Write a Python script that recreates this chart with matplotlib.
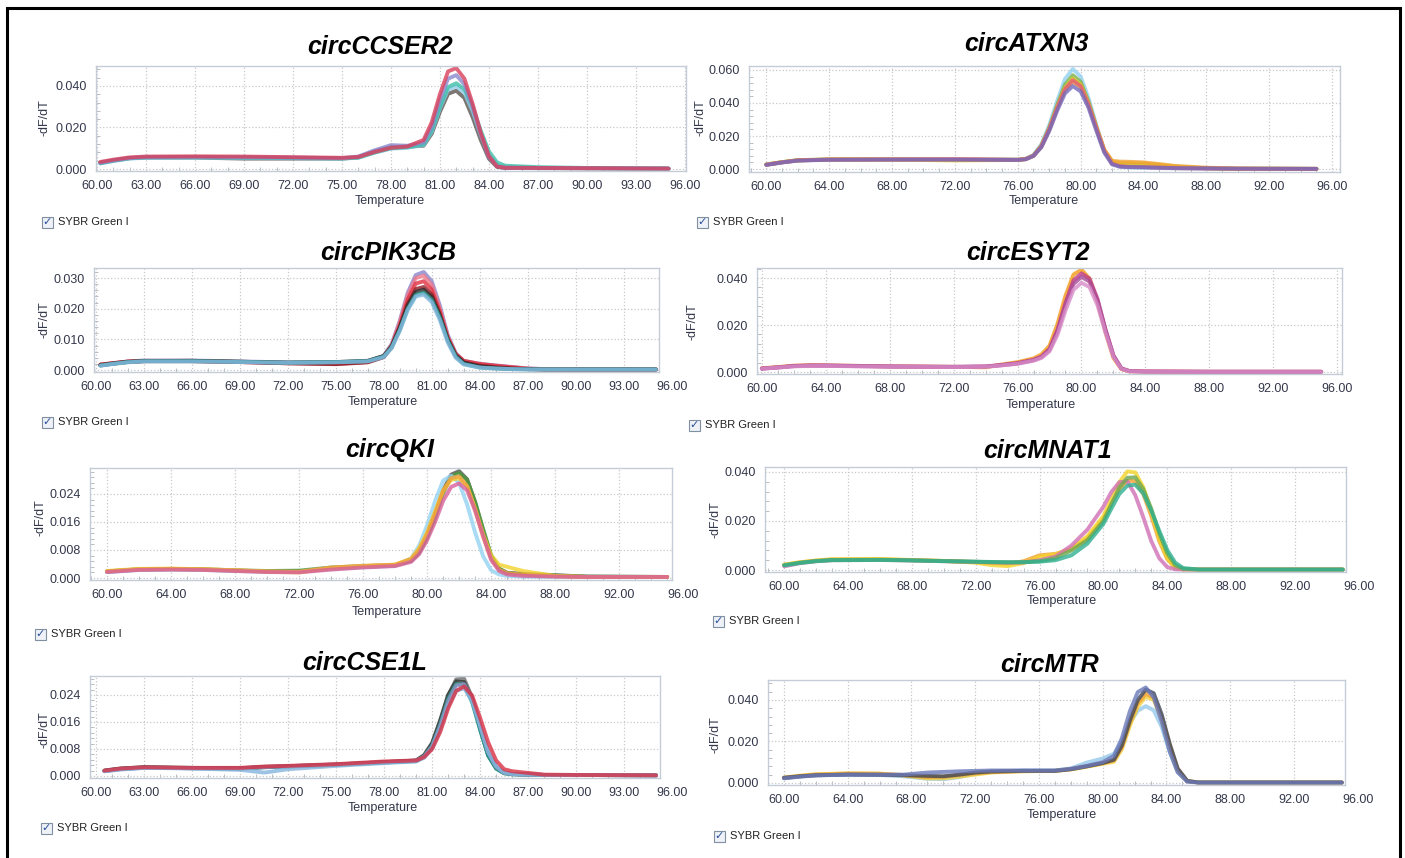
import matplotlib
matplotlib.use('Agg')
import matplotlib.pyplot as plt
from matplotlib.patches import Rectangle
from matplotlib.ticker import MultipleLocator, AutoMinorLocator, FormatStrFormatter

plt.rcParams['font.family'] = ['Liberation Sans', 'DejaVu Sans']

W, H = 1405, 858

# ---------------- data (melt curves, -dF/dT vs temperature) ----------------
# circCCSER2
ccser2_temp = [60.2, 61, 62, 63, 66, 69, 72, 75, 76, 77, 78, 79, 80, 80.5, 81, 81.5, 82, 82.5, 83, 83.5, 84, 84.5, 85, 87, 90, 95]
ccser2_red = [0.0034, 0.0045, 0.0056, 0.0060, 0.0061, 0.0060, 0.0057, 0.0054, 0.0058, 0.0082, 0.0102, 0.0108, 0.0140, 0.0225, 0.0360, 0.0470, 0.0486, 0.0435, 0.0315, 0.0175, 0.0062, 0.0012, 0.0006, 0.0005, 0.0004, 0.0002]
ccser2_lavender = [0.0030, 0.0042, 0.0053, 0.0057, 0.0058, 0.0057, 0.0055, 0.0052, 0.0060, 0.0090, 0.0115, 0.0112, 0.0128, 0.0205, 0.0335, 0.0435, 0.0452, 0.0408, 0.0300, 0.0168, 0.0058, 0.0012, 0.0006, 0.0005, 0.0004, 0.0002]
ccser2_teal = [0.0028, 0.0040, 0.0052, 0.0056, 0.0056, 0.0055, 0.0053, 0.0051, 0.0055, 0.0080, 0.0100, 0.0105, 0.0118, 0.0185, 0.0300, 0.0395, 0.0413, 0.0385, 0.0300, 0.0185, 0.0085, 0.0032, 0.0016, 0.0009, 0.0005, 0.0002]
ccser2_lightblue = [0.0026, 0.0038, 0.0050, 0.0054, 0.0055, 0.0054, 0.0052, 0.0050, 0.0054, 0.0078, 0.0098, 0.0102, 0.0115, 0.0180, 0.0292, 0.0383, 0.0398, 0.0368, 0.0280, 0.0165, 0.0068, 0.0022, 0.0010, 0.0006, 0.0004, 0.0002]
ccser2_gray = [0.0030, 0.0041, 0.0052, 0.0055, 0.0055, 0.0050, 0.0050, 0.0050, 0.0056, 0.0085, 0.0105, 0.0108, 0.0112, 0.0170, 0.0275, 0.0362, 0.0377, 0.0342, 0.0250, 0.0140, 0.0050, 0.0010, 0.0005, 0.0004, 0.0003, 0.0002]

# circATXN3
atxn3_temp = [60, 61, 62, 64, 68, 72, 76, 76.5, 77, 77.5, 78, 78.5, 79, 79.5, 80, 80.5, 81, 81.5, 82, 82.5, 83, 84, 85, 86, 88, 90, 95]
atxn3_lightblue = [0.0025, 0.0040, 0.0052, 0.0058, 0.0059, 0.0058, 0.0057, 0.0062, 0.0085, 0.0150, 0.0265, 0.0410, 0.0545, 0.0606, 0.0560, 0.0430, 0.0265, 0.0115, 0.0035, 0.0014, 0.0010, 0.0008, 0.0006, 0.0004, 0.0003, 0.0002, 0.0001]
atxn3_green = [0.0028, 0.0042, 0.0054, 0.0058, 0.0058, 0.0056, 0.0056, 0.0061, 0.0082, 0.0142, 0.0250, 0.0385, 0.0510, 0.0568, 0.0528, 0.0408, 0.0255, 0.0112, 0.0040, 0.0028, 0.0026, 0.0024, 0.0018, 0.0012, 0.0005, 0.0002, 0.0001]
atxn3_yellow = [0.0026, 0.0041, 0.0052, 0.0057, 0.0057, 0.0052, 0.0055, 0.0060, 0.0080, 0.0138, 0.0242, 0.0372, 0.0492, 0.0548, 0.0512, 0.0398, 0.0252, 0.0115, 0.0045, 0.0036, 0.0035, 0.0034, 0.0025, 0.0015, 0.0005, 0.0002, 0.0001]
atxn3_orange = [0.0027, 0.0041, 0.0053, 0.0058, 0.0058, 0.0057, 0.0056, 0.0060, 0.0080, 0.0135, 0.0238, 0.0365, 0.0478, 0.0530, 0.0498, 0.0390, 0.0250, 0.0118, 0.0050, 0.0045, 0.0044, 0.0040, 0.0030, 0.0019, 0.0008, 0.0003, 0.0001]
atxn3_red = [0.0026, 0.0040, 0.0052, 0.0057, 0.0058, 0.0060, 0.0056, 0.0060, 0.0081, 0.0138, 0.0242, 0.0370, 0.0485, 0.0538, 0.0502, 0.0392, 0.0248, 0.0110, 0.0032, 0.0018, 0.0014, 0.0012, 0.0008, 0.0005, 0.0003, 0.0002, 0.0001]
atxn3_purple = [0.0025, 0.0040, 0.0051, 0.0056, 0.0057, 0.0057, 0.0055, 0.0059, 0.0079, 0.0132, 0.0230, 0.0352, 0.0458, 0.0503, 0.0470, 0.0372, 0.0232, 0.0100, 0.0028, 0.0014, 0.0012, 0.0010, 0.0008, 0.0006, 0.0004, 0.0002, 0.0001]

# circPIK3CB
pik3cb_temp = [60.3, 61, 62, 63, 66, 69, 72, 75, 77, 78, 78.5, 79, 79.5, 80, 80.5, 81, 81.5, 82, 82.5, 83, 84, 85, 86, 87, 88, 90, 95]
pik3cb_lavender = [0.0016, 0.0021, 0.0028, 0.0031, 0.0031, 0.0028, 0.0025, 0.0025, 0.0029, 0.0046, 0.0085, 0.0160, 0.0252, 0.0310, 0.0320, 0.0290, 0.0212, 0.0115, 0.0055, 0.0030, 0.0020, 0.0015, 0.0010, 0.0005, 0.0003, 0.0002, 0.0002]
pik3cb_pink = [0.0017, 0.0022, 0.0028, 0.0030, 0.0030, 0.0027, 0.0023, 0.0022, 0.0028, 0.0045, 0.0082, 0.0155, 0.0244, 0.0300, 0.0308, 0.0278, 0.0202, 0.0110, 0.0052, 0.0028, 0.0018, 0.0013, 0.0009, 0.0005, 0.0003, 0.0002, 0.0002]
pik3cb_red = [0.0018, 0.0022, 0.0027, 0.0029, 0.0029, 0.0026, 0.0022, 0.0020, 0.0026, 0.0043, 0.0078, 0.0145, 0.0230, 0.0282, 0.0290, 0.0262, 0.0192, 0.0106, 0.0052, 0.0030, 0.0020, 0.0014, 0.0009, 0.0004, 0.0002, 0.0002, 0.0002]
pik3cb_darkred = [0.0017, 0.0021, 0.0027, 0.0029, 0.0029, 0.0026, 0.0022, 0.0019, 0.0025, 0.0042, 0.0075, 0.0138, 0.0215, 0.0264, 0.0271, 0.0246, 0.0182, 0.0100, 0.0048, 0.0025, 0.0014, 0.0009, 0.0005, 0.0003, 0.0002, 0.0002, 0.0002]
pik3cb_dark = [0.0015, 0.0020, 0.0026, 0.0029, 0.0030, 0.0027, 0.0024, 0.0026, 0.0030, 0.0046, 0.0078, 0.0138, 0.0210, 0.0255, 0.0262, 0.0238, 0.0178, 0.0100, 0.0047, 0.0024, 0.0012, 0.0007, 0.0004, 0.0003, 0.0002, 0.0002, 0.0002]
pik3cb_teal = [0.0015, 0.0020, 0.0026, 0.0029, 0.0029, 0.0027, 0.0024, 0.0026, 0.0029, 0.0044, 0.0074, 0.0130, 0.0200, 0.0245, 0.0252, 0.0230, 0.0172, 0.0096, 0.0044, 0.0020, 0.0008, 0.0005, 0.0003, 0.0002, 0.0002, 0.0002, 0.0002]
pik3cb_lightblue = [0.0014, 0.0019, 0.0025, 0.0028, 0.0028, 0.0026, 0.0023, 0.0025, 0.0028, 0.0042, 0.0072, 0.0128, 0.0196, 0.0240, 0.0246, 0.0222, 0.0164, 0.0090, 0.0040, 0.0018, 0.0008, 0.0005, 0.0003, 0.0002, 0.0002, 0.0002, 0.0002]

# circESYT2
esyt2_temp = [60, 61, 62, 63, 64, 66, 68, 72, 74, 75, 76, 77, 77.5, 78, 78.5, 79, 79.5, 80, 80.5, 81, 81.5, 82, 82.5, 83, 84, 88, 95]
esyt2_orange = [0.0016, 0.0021, 0.0027, 0.0029, 0.0028, 0.0026, 0.0024, 0.0022, 0.0020, 0.0032, 0.0042, 0.0058, 0.0075, 0.0112, 0.0205, 0.0325, 0.0415, 0.0436, 0.0398, 0.0300, 0.0170, 0.0060, 0.0012, 0.0003, 0.0002, 0.0001, 0.0001]
esyt2_magenta = [0.0015, 0.0020, 0.0026, 0.0028, 0.0028, 0.0026, 0.0024, 0.0022, 0.0024, 0.0030, 0.0038, 0.0052, 0.0066, 0.0098, 0.0180, 0.0295, 0.0390, 0.0420, 0.0398, 0.0312, 0.0182, 0.0070, 0.0015, 0.0004, 0.0002, 0.0001, 0.0001]
esyt2_purple = [0.0014, 0.0019, 0.0025, 0.0027, 0.0027, 0.0025, 0.0023, 0.0022, 0.0023, 0.0029, 0.0036, 0.0050, 0.0063, 0.0094, 0.0172, 0.0283, 0.0375, 0.0405, 0.0385, 0.0305, 0.0180, 0.0070, 0.0015, 0.0004, 0.0002, 0.0001, 0.0001]
esyt2_violet = [0.0014, 0.0019, 0.0024, 0.0026, 0.0026, 0.0024, 0.0023, 0.0021, 0.0022, 0.0028, 0.0035, 0.0048, 0.0060, 0.0088, 0.0158, 0.0262, 0.0350, 0.0380, 0.0362, 0.0285, 0.0168, 0.0064, 0.0013, 0.0003, 0.0002, 0.0001, 0.0001]

# circQKI
qki_temp = [60, 62, 64, 66, 68, 70, 72, 74, 76, 78, 79, 79.5, 80, 80.5, 81, 81.5, 82, 82.5, 83, 83.5, 84, 84.5, 85, 86, 88, 90, 95]
qki_gray = [0.0018, 0.0024, 0.0025, 0.0024, 0.0021, 0.0019, 0.0019, 0.0027, 0.0032, 0.0036, 0.0050, 0.0075, 0.0120, 0.0180, 0.0250, 0.0295, 0.0305, 0.0282, 0.0215, 0.0135, 0.0062, 0.0026, 0.0015, 0.0012, 0.0008, 0.0004, 0.0003]
qki_green = [0.0019, 0.0025, 0.0026, 0.0025, 0.0022, 0.0020, 0.0021, 0.0030, 0.0034, 0.0037, 0.0050, 0.0072, 0.0115, 0.0172, 0.0242, 0.0290, 0.0300, 0.0280, 0.0218, 0.0140, 0.0065, 0.0027, 0.0014, 0.0010, 0.0007, 0.0004, 0.0003]
qki_yellow = [0.0020, 0.0026, 0.0027, 0.0025, 0.0022, 0.0018, 0.0016, 0.0028, 0.0034, 0.0038, 0.0055, 0.0085, 0.0130, 0.0190, 0.0250, 0.0280, 0.0285, 0.0262, 0.0198, 0.0125, 0.0065, 0.0038, 0.0032, 0.0020, 0.0006, 0.0003, 0.0003]
qki_orange = [0.0019, 0.0025, 0.0026, 0.0025, 0.0022, 0.0019, 0.0018, 0.0030, 0.0035, 0.0038, 0.0054, 0.0080, 0.0125, 0.0185, 0.0248, 0.0285, 0.0290, 0.0262, 0.0195, 0.0118, 0.0055, 0.0024, 0.0014, 0.0010, 0.0005, 0.0003, 0.0003]
qki_lightblue = [0.0017, 0.0023, 0.0024, 0.0023, 0.0020, 0.0018, 0.0017, 0.0026, 0.0031, 0.0035, 0.0056, 0.0092, 0.0150, 0.0220, 0.0278, 0.0292, 0.0272, 0.0210, 0.0130, 0.0062, 0.0022, 0.0010, 0.0006, 0.0004, 0.0003, 0.0003, 0.0003]
qki_pink = [0.0017, 0.0023, 0.0024, 0.0023, 0.0020, 0.0017, 0.0016, 0.0024, 0.0030, 0.0034, 0.0046, 0.0068, 0.0108, 0.0160, 0.0220, 0.0260, 0.0270, 0.0250, 0.0192, 0.0120, 0.0052, 0.0020, 0.0010, 0.0006, 0.0004, 0.0003, 0.0003]

# circMNAT1
mnat1_temp = [60, 61, 62, 63, 66, 68, 70, 72, 73, 74, 75, 76, 77, 78, 79, 80, 80.5, 81, 81.5, 82, 82.5, 83, 83.5, 84, 84.5, 85, 86, 95]
mnat1_yellow = [0.0022, 0.0032, 0.0039, 0.0044, 0.0045, 0.0041, 0.0037, 0.0030, 0.0020, 0.0016, 0.0028, 0.0054, 0.0064, 0.0088, 0.0138, 0.0220, 0.0290, 0.0358, 0.0402, 0.0398, 0.0338, 0.0240, 0.0130, 0.0050, 0.0010, 0.0003, 0.0002, 0.0002]
mnat1_orange = [0.0021, 0.0031, 0.0038, 0.0043, 0.0044, 0.0040, 0.0037, 0.0032, 0.0028, 0.0025, 0.0036, 0.0060, 0.0066, 0.0085, 0.0130, 0.0208, 0.0272, 0.0330, 0.0365, 0.0362, 0.0310, 0.0220, 0.0118, 0.0045, 0.0009, 0.0003, 0.0002, 0.0002]
mnat1_violet = [0.0015, 0.0028, 0.0036, 0.0040, 0.0041, 0.0039, 0.0036, 0.0033, 0.0031, 0.0030, 0.0031, 0.0040, 0.0055, 0.0100, 0.0165, 0.0258, 0.0318, 0.0358, 0.0362, 0.0305, 0.0215, 0.0118, 0.0048, 0.0012, 0.0003, 0.0002, 0.0002, 0.0002]
mnat1_green = [0.0020, 0.0030, 0.0037, 0.0041, 0.0042, 0.0040, 0.0037, 0.0034, 0.0032, 0.0031, 0.0032, 0.0036, 0.0048, 0.0080, 0.0122, 0.0200, 0.0268, 0.0336, 0.0376, 0.0378, 0.0330, 0.0250, 0.0150, 0.0068, 0.0020, 0.0005, 0.0002, 0.0002]
mnat1_teal = [0.0019, 0.0029, 0.0036, 0.0040, 0.0041, 0.0039, 0.0036, 0.0034, 0.0033, 0.0032, 0.0032, 0.0034, 0.0040, 0.0060, 0.0108, 0.0188, 0.0250, 0.0310, 0.0344, 0.0348, 0.0312, 0.0242, 0.0160, 0.0082, 0.0030, 0.0008, 0.0002, 0.0002]

# circCSE1L
cse1l_temp = [60.5, 61.5, 63, 66, 69, 70.5, 72, 75, 78, 80, 80.5, 81, 81.5, 82, 82.5, 83, 83.5, 84, 84.5, 85, 85.5, 86, 87, 88, 90, 95]
cse1l_gray = [0.0015, 0.0021, 0.0025, 0.0023, 0.0022, 0.0026, 0.0028, 0.0033, 0.0040, 0.0045, 0.0060, 0.0095, 0.0160, 0.0238, 0.0286, 0.0288, 0.0232, 0.0142, 0.0062, 0.0022, 0.0008, 0.0005, 0.0004, 0.0003, 0.0003, 0.0002]
cse1l_dark = [0.0016, 0.0022, 0.0026, 0.0024, 0.0023, 0.0027, 0.0029, 0.0034, 0.0041, 0.0046, 0.0062, 0.0098, 0.0165, 0.0240, 0.0280, 0.0278, 0.0225, 0.0140, 0.0062, 0.0024, 0.0010, 0.0006, 0.0004, 0.0003, 0.0003, 0.0002]
cse1l_red = [0.0016, 0.0022, 0.0026, 0.0024, 0.0024, 0.0028, 0.0030, 0.0035, 0.0043, 0.0046, 0.0056, 0.0080, 0.0130, 0.0200, 0.0252, 0.0265, 0.0238, 0.0172, 0.0100, 0.0046, 0.0020, 0.0014, 0.0009, 0.0004, 0.0003, 0.0002]
cse1l_teal = [0.0015, 0.0021, 0.0025, 0.0023, 0.0022, 0.0026, 0.0028, 0.0033, 0.0040, 0.0044, 0.0058, 0.0090, 0.0152, 0.0228, 0.0272, 0.0270, 0.0218, 0.0136, 0.0060, 0.0022, 0.0008, 0.0005, 0.0004, 0.0003, 0.0003, 0.0002]
cse1l_lavender = [0.0014, 0.0020, 0.0024, 0.0023, 0.0023, 0.0026, 0.0029, 0.0034, 0.0041, 0.0045, 0.0058, 0.0088, 0.0148, 0.0222, 0.0268, 0.0272, 0.0228, 0.0150, 0.0072, 0.0028, 0.0010, 0.0006, 0.0004, 0.0003, 0.0003, 0.0002]
cse1l_lightblue = [0.0014, 0.0019, 0.0024, 0.0022, 0.0018, 0.0010, 0.0020, 0.0030, 0.0038, 0.0043, 0.0054, 0.0082, 0.0138, 0.0208, 0.0252, 0.0260, 0.0222, 0.0148, 0.0070, 0.0028, 0.0010, 0.0006, 0.0004, 0.0003, 0.0003, 0.0002]

# circMTR
mtr_temp = [60, 61, 62, 64, 66, 67.5, 69, 70, 71, 72, 73, 75, 77, 78, 79, 80, 80.7, 81.2, 81.7, 82.2, 82.7, 83.2, 83.7, 84.2, 84.7, 85.3, 86, 95]
mtr_slate = [0.0022, 0.0030, 0.0036, 0.0040, 0.0040, 0.0040, 0.0050, 0.0053, 0.0056, 0.0058, 0.0060, 0.0060, 0.0060, 0.0068, 0.0082, 0.0100, 0.0130, 0.0215, 0.0345, 0.0438, 0.0460, 0.0412, 0.0295, 0.0152, 0.0052, 0.0006, 0.0002, 0.0002]
mtr_dark = [0.0025, 0.0032, 0.0037, 0.0040, 0.0039, 0.0037, 0.0034, 0.0032, 0.0040, 0.0050, 0.0055, 0.0058, 0.0058, 0.0066, 0.0080, 0.0096, 0.0112, 0.0180, 0.0300, 0.0400, 0.0450, 0.0432, 0.0330, 0.0190, 0.0070, 0.0010, 0.0002, 0.0002]
mtr_orange = [0.0024, 0.0033, 0.0040, 0.0045, 0.0044, 0.0038, 0.0028, 0.0030, 0.0038, 0.0046, 0.0052, 0.0057, 0.0058, 0.0066, 0.0080, 0.0095, 0.0108, 0.0172, 0.0290, 0.0385, 0.0430, 0.0412, 0.0315, 0.0180, 0.0065, 0.0009, 0.0002, 0.0002]
mtr_yellow = [0.0026, 0.0035, 0.0042, 0.0046, 0.0045, 0.0036, 0.0022, 0.0022, 0.0030, 0.0040, 0.0050, 0.0056, 0.0058, 0.0065, 0.0078, 0.0092, 0.0102, 0.0162, 0.0275, 0.0368, 0.0415, 0.0400, 0.0310, 0.0178, 0.0064, 0.0009, 0.0002, 0.0002]
mtr_lightblue = [0.0023, 0.0031, 0.0037, 0.0040, 0.0038, 0.0032, 0.0020, 0.0018, 0.0028, 0.0045, 0.0055, 0.0060, 0.0060, 0.0070, 0.0098, 0.0118, 0.0140, 0.0200, 0.0290, 0.0348, 0.0370, 0.0350, 0.0270, 0.0150, 0.0052, 0.0008, 0.0002, 0.0002]

# ---------------- panel layout (pixel boxes) ----------------
# name, temp, curves, colours, box(l,t,r,b), xlim, ylim, xstep, yticks, fmt, title xy, xlabel xy, ylabel xy, checkbox xy
panels = [
    ('circCCSER2', ccser2_temp,
     [ccser2_gray, ccser2_lightblue, ccser2_teal, ccser2_lavender, ccser2_red],
     ['#5a5550', '#8ecbe8', '#3fbfaa', '#8a88cc', '#d9405c'],
     (96, 66, 686, 171), (59.94, 96.07), (-0.00096, 0.0496), 3, [0, 0.02, 0.04], '%.3f',
     (380, 47), (390, 201), (45, 118), (47, 222)),
    ('circATXN3', atxn3_temp,
     [atxn3_lightblue, atxn3_green, atxn3_yellow, atxn3_orange, atxn3_red, atxn3_purple],
     ['#92d0f0', '#78b048', '#e6c828', '#f0a030', '#e0607a', '#7468bc'],
     (749, 66, 1340, 172), (58.9, 96.5), (-0.0018, 0.0624), 4, [0, 0.02, 0.04, 0.06], '%.3f',
     (1026, 44), (1044, 201), (701, 118), (702, 222)),
    ('circPIK3CB', pik3cb_temp,
     [pik3cb_lavender, pik3cb_pink, pik3cb_red, pik3cb_darkred, pik3cb_dark, pik3cb_teal, pik3cb_lightblue],
     ['#8a86cc', '#f07a8a', '#e03040', '#8a1c22', '#2e2e30', '#2a9d8f', '#84b8e0'],
     (94, 268, 659, 372), (59.9, 95.2), (-0.00065, 0.0333), 3, [0, 0.01, 0.02, 0.03], '%.3f',
     (388, 253), (383, 402), (45, 320), (47, 422)),
    ('circESYT2', esyt2_temp,
     [esyt2_orange, esyt2_magenta, esyt2_purple, esyt2_violet],
     ['#f39a18', '#c03c88', '#a84c98', '#d88cc8'],
     (757, 268, 1342, 374), (59.7, 96.3), (-0.00085, 0.0443), 4, [0, 0.02, 0.04], '%.3f',
     (1028, 253), (1041, 405), (693, 322), (694, 425)),
    ('circQKI', qki_temp,
     [qki_gray, qki_green, qki_lightblue, qki_yellow, qki_orange, qki_pink],
     ['#505050', '#4a9a3c', '#94d2f2', '#f2d22a', '#f0a040', '#d8609a'],
     (90, 468, 672, 580), (58.94, 95.3), (-0.00057, 0.0314), 4, [0, 0.008, 0.016, 0.024], '%.3f',
     (390, 450), (387, 612), (40, 518), (40, 634)),
    ('circMNAT1', mnat1_temp,
     [mnat1_orange, mnat1_yellow, mnat1_violet, mnat1_green, mnat1_teal],
     ['#f0a030', '#f4d428', '#d070b4', '#6aa84f', '#2fb090'],
     (765, 467, 1346, 572), (58.8, 95.2), (-0.0008, 0.042), 4, [0, 0.02, 0.04], '%.3f',
     (1048, 451), (1062, 601), (716, 520), (718, 621)),
    ('circCSE1L', cse1l_temp,
     [cse1l_gray, cse1l_dark, cse1l_teal, cse1l_lavender, cse1l_lightblue, cse1l_red],
     ['#6e6e6e', '#303832', '#20a090', '#9090c4', '#84b4dc', '#d83044'],
     (90, 676, 660, 778), (59.6, 95.25), (-0.0006, 0.0296), 3, [0, 0.008, 0.016, 0.024], '%.3f',
     (365, 663), (383, 808), (45, 730), (46, 828)),
    ('circMTR', mtr_temp,
     [mtr_lightblue, mtr_yellow, mtr_orange, mtr_dark, mtr_slate],
     ['#94c8ea', '#f0d040', '#f0a030', '#3e4658', '#6a78b8'],
     (768, 680, 1345, 785), (59.0, 95.2), (-0.001, 0.0496), 4, [0, 0.02, 0.04], '%.3f',
     (1050, 665), (1062, 815), (716, 735), (719, 836)),
]

fig = plt.figure(figsize=(W / 100, H / 100), dpi=100)
fig.patch.set_facecolor('white')

def fx(x):
    return x / W

def fy(y):
    return 1 - y / H

tick_col = '#33374a'
frame_col = '#c4ccd8'

for (name, temp, curves, colors, box, xlim, ylim, xstep, yticks, yfmt,
     title_xy, xlab_xy, ylab_xy, chk_xy) in panels:
    l, t, r, b = box
    ax = fig.add_axes([fx(l), fy(b), (r - l) / W, (b - t) / H])
    for y, c in zip(curves, colors):
        ax.plot(temp, y, color=c, lw=2.8, alpha=0.8, solid_capstyle='round',
                solid_joinstyle='round')
    ax.set_xlim(*xlim)
    ax.set_ylim(*ylim)
    xticks = [60 + xstep * i for i in range(int(36 / xstep) + 1)]
    ax.set_xticks([v for v in xticks if v <= xlim[1]])
    ax.set_yticks(yticks)
    ax.xaxis.set_major_formatter(FormatStrFormatter('%.2f'))
    ax.yaxis.set_major_formatter(FormatStrFormatter(yfmt))
    ax.xaxis.set_minor_locator(MultipleLocator(1))
    ax.yaxis.set_minor_locator(AutoMinorLocator(5))
    ax.grid(True, which='major', color='#c8c8c8', ls=':', lw=0.9)
    ax.tick_params(which='major', length=0, pad=6.5, labelsize=9, labelcolor=tick_col)
    ax.tick_params(which='minor', direction='in', length=3, color='#b8bcc4', width=0.7)
    for s in ax.spines.values():
        s.set_color(frame_col)
        s.set_linewidth(1.0)
    # tick labels that the software prints past the plot frame
    for v in xticks:
        if v > xlim[1]:
            ax.annotate('%.2f' % v, (v, 0), xycoords=('data', 'axes fraction'),
                        xytext=(0, -6.5), textcoords='offset points', ha='center', va='top',
                        fontsize=9, color=tick_col, annotation_clip=False)

    fig.text(fx(title_xy[0]), fy(title_xy[1]), name, ha='center', va='center',
             fontsize=18, fontweight='bold', fontstyle='italic', color='black')
    fig.text(fx(xlab_xy[0]), fy(xlab_xy[1]), 'Temperature', ha='center', va='center',
             fontsize=9, color=tick_col)
    fig.text(fx(ylab_xy[0]), fy(ylab_xy[1]), '-dF/dT', ha='center', va='center',
             rotation=90, fontsize=9, color=tick_col)

    # SYBR Green I checkbox
    cx, cy = chk_xy
    fig.add_artist(Rectangle((fx(cx - 5.5), fy(cy + 5.5)), 11 / W, 11 / H,
                             transform=fig.transFigure, facecolor='#eef2f8',
                             edgecolor='#8090a0', lw=0.8))
    fig.text(fx(cx), fy(cy), '\u2713', ha='center', va='center', fontsize=8,
             fontweight='bold', color='#2a4f9a', family='DejaVu Sans')
    fig.text(fx(cx + 11), fy(cy), 'SYBR Green I', ha='left', va='center',
             fontsize=8, color='#222222')

# outer black frame (open at the bottom edge of the picture)
fig.add_artist(Rectangle((fx(7), -0.05), (1400 - 7) / W, fy(8) + 0.05,
                         transform=fig.transFigure, fill=False, edgecolor='black', lw=2.2))

fig.savefig('out.png', dpi=100)
